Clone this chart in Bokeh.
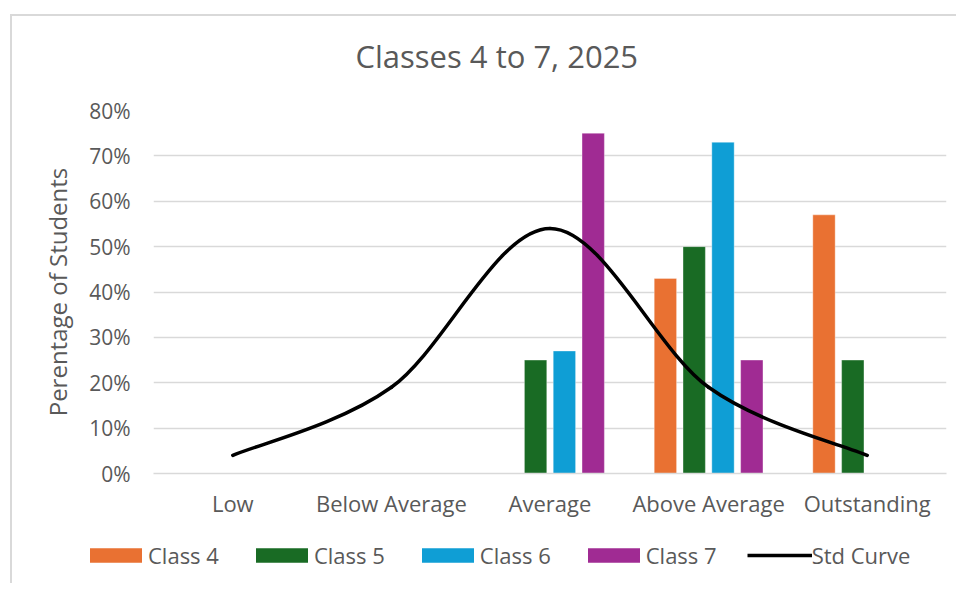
from bokeh.plotting import figure
from bokeh.layouts import column
from bokeh.models import (FactorRange, Range1d, ColumnDataSource, Legend, LegendItem,
                          FixedTicker, PrintfTickFormatter, Label)
from bokeh.transform import dodge
from bokeh.embed import file_html
from bokeh.resources import INLINE

# ---- data ----
categories = ["Low", "Below Average", "Average", "Above Average", "Outstanding"]
class4 = [0, 0, 0, 43, 57]
class5 = [0, 0, 25, 50, 25]
class6 = [0, 0, 27, 73, 0]
class7 = [0, 0, 75, 25, 0]
std_curve = [4, 19, 54, 19, 4]
series_names = ["Class 4", "Class 5", "Class 6", "Class 7"]
y_ticks = [0, 10, 20, 30, 40, 50, 60, 70, 80]
title_text = "Classes 4 to 7, 2025"

colors = ["#E97132", "#196B24", "#0F9ED5", "#A02B93"]
GREY = "#595959"
FONT = "Open Sans"
W = 944

# ---- title strip ----
t = figure(width=W, height=70, output_backend="svg", toolbar_location=None,
           x_range=Range1d(0, W), y_range=Range1d(0, 70),
           x_axis_location=None, y_axis_location=None,
           min_border_left=0, min_border_right=0, min_border_top=0, min_border_bottom=0)
t.frame_align = False
t.outline_line_color = None
t.xgrid.grid_line_color = None
t.ygrid.grid_line_color = None
t.add_layout(Label(x=343, y=31, text=title_text, text_align="left", text_baseline="middle",
                   text_font=FONT, text_font_size="31px", text_color=GREY))

# ---- main chart ----
src = ColumnDataSource(dict(cat=categories, c4=class4, c5=class5, c6=class6, c7=class7))

p = figure(x_range=FactorRange(factors=categories, range_padding=0),
           y_range=Range1d(0, 80),
           width=W, height=437, output_backend="svg", toolbar_location=None,
           min_border_left=141, min_border_right=10, min_border_top=24, min_border_bottom=50)
p.frame_align = False
p.outline_line_color = None
p.background_fill_color = "white"
p.border_fill_color = "white"

slot = 0.1816
bw = 0.141
offsets = [-1.5 * slot, -0.5 * slot, 0.5 * slot, 1.5 * slot]
for col, off, c in zip(["c4", "c5", "c6", "c7"], offsets, colors):
    p.vbar(x=dodge("cat", off, range=p.x_range), top=col, bottom=0, width=bw,
           source=src, fill_color=c, line_color="white", line_alpha=0.35, line_width=1)

# smoothed standard curve (Catmull-Rom style Bezier, like Excel's smoothed line)
n = len(std_curve)
xs = [i + 0.5 for i in range(n)]
x0, y0, x1, y1, cx0, cy0, cx1, cy1 = [], [], [], [], [], [], [], []
for i in range(n - 1):
    im1 = max(i - 1, 0)
    ip2 = min(i + 2, n - 1)
    x0.append(xs[i]); y0.append(std_curve[i])
    x1.append(xs[i + 1]); y1.append(std_curve[i + 1])
    cx0.append(xs[i] + (xs[i + 1] - xs[im1]) / 6.0)
    cy0.append(std_curve[i] + (std_curve[i + 1] - std_curve[im1]) / 6.0)
    cx1.append(xs[i + 1] - (xs[ip2] - xs[i]) / 6.0)
    cy1.append(std_curve[i + 1] - (std_curve[ip2] - std_curve[i]) / 6.0)
p.bezier(x0=x0, y0=y0, x1=x1, y1=y1, cx0=cx0, cy0=cy0, cx1=cx1, cy1=cy1,
         line_color="black", line_width=3.5, line_cap="round")

# axes
p.xgrid.grid_line_color = None
p.ygrid.grid_line_color = "#d9d9d9"
p.ygrid.grid_line_width = 1.5
p.yaxis.ticker = FixedTicker(ticks=y_ticks)
p.yaxis.formatter = PrintfTickFormatter(format="%d%%")
for ax in (p.xaxis, p.yaxis):
    ax.major_tick_line_color = None
    ax.minor_tick_line_color = None
    ax.major_tick_out = 0
    ax.major_label_text_color = GREY
    ax.major_label_text_font = FONT
p.yaxis.axis_line_color = None
p.xaxis.axis_line_color = "#d9d9d9"
p.xaxis.axis_line_width = 1.5
p.yaxis.major_label_text_font_size = "21px"
p.xaxis.major_label_text_font_size = "22px"
p.yaxis.major_label_standoff = 23
p.xaxis.major_label_standoff = 14
p.yaxis.axis_label = "Perentage of Students"
p.yaxis.axis_label_text_font = FONT
p.yaxis.axis_label_text_font_size = "24px"
p.yaxis.axis_label_text_font_style = "normal"
p.yaxis.axis_label_text_color = GREY
p.yaxis.axis_label_standoff = 12

# ---- legend strip ----
q = figure(width=W, height=60, output_backend="svg", toolbar_location=None,
           x_range=Range1d(0, 1), y_range=Range1d(0, 1),
           x_axis_location=None, y_axis_location=None,
           min_border_left=0, min_border_right=0, min_border_top=0, min_border_bottom=0)
q.frame_align = False
q.outline_line_color = None
q.xgrid.grid_line_color = None
q.ygrid.grid_line_color = None
key_src = ColumnDataSource(dict(x=xs, c4=class4, c5=class5, c6=class6, c7=class7, sc=std_curve))
swatches = [q.vbar(x="x", top=col, width=0.1, source=key_src, fill_color=c, line_color=None,
                   visible=False)
            for col, c in zip(["c4", "c5", "c6", "c7"], colors)]
curve_key = q.line(x="x", y="sc", source=key_src, line_color="black", line_width=3.5,
                   visible=False)
items = [LegendItem(label=nm, renderers=[r]) for nm, r in zip(series_names, swatches)]
items.append(LegendItem(label="Std Curve", renderers=[curve_key]))
legend = Legend(items=items, orientation="horizontal", location=(71, 13),
                glyph_width=65, glyph_height=18, label_standoff=0, spacing=30,
                padding=0, margin=0, border_line_color=None, background_fill_alpha=0,
                inactive_fill_alpha=0,
                label_text_font=FONT, label_text_font_size="22px", label_text_color=GREY)
q.add_layout(legend)

layout = column(t, p, q, spacing=0, margin=(14, 0, 0, 10),
                styles={"border-top": "2px solid #d9d9d9", "border-left": "2px solid #d9d9d9"})

open("out.html", "w").write(file_html(layout, INLINE))
